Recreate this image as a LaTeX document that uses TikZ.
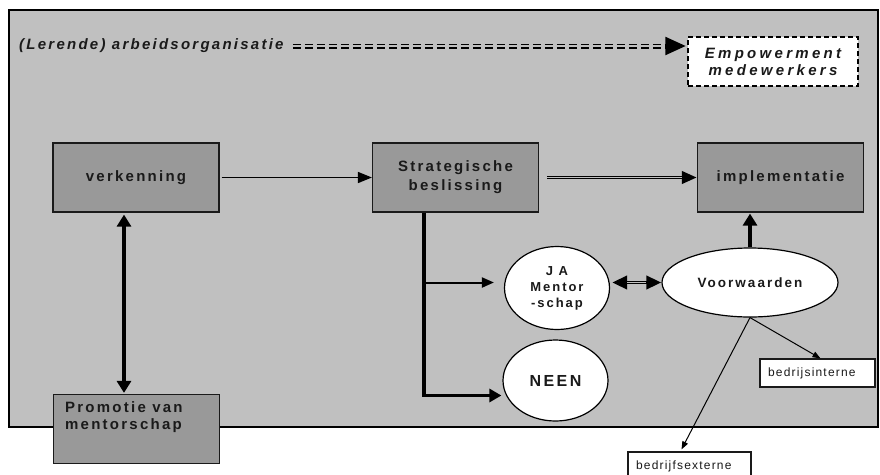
\documentclass[tikz,border=0pt]{standalone}
\usepackage{fontspec}
\setmainfont{Liberation Sans}
\newfontfamily\trackfont[LetterSpace=15]{Liberation Sans}
\newfontfamily\widetrack[LetterSpace=22]{Liberation Sans}
\newfontfamily\smalltrack[LetterSpace=10]{Liberation Sans}
\usetikzlibrary{arrows.meta,shapes.geometric}

\definecolor{bggray}{HTML}{C0C0C0}
\definecolor{boxgray}{HTML}{999999}
\definecolor{inkgray}{HTML}{1A1A1A}

\tikzset{
  phase/.style={draw=inkgray, fill=boxgray, line width=1.2pt, minimum width=166pt,
    minimum height=69pt, inner sep=0pt, align=center, text=inkgray,
    font=\trackfont\bfseries\fontsize{15}{19}\selectfont},
  choice/.style={ellipse, draw=black, fill=white, line width=1.2pt, inner sep=0pt,
    minimum width=105pt, minimum height=83pt, align=center, text=inkgray,
    font=\trackfont\bfseries\fontsize{13}{16}\selectfont},
  factor/.style={draw=inkgray, fill=white, line width=1.2pt, inner ysep=0pt, inner xsep=8pt,
    minimum height=28pt, align=left, text=inkgray, font=\smalltrack\fontsize{12}{14}\selectfont},
  flow/.style={line width=1.5pt, -{Triangle[length=14pt,width=11pt]}},
  heavy/.style={line width=3.2pt, -{Triangle[length=12pt,width=14pt]}},
  twin/.style={line width=3.6pt},
  gap/.style={draw=bggray, line width=1pt},
  thin/.style={line width=1pt, -{Triangle[length=8pt,width=6pt]}}
}

\begin{document}
\begin{tikzpicture}[x=1pt, y=-1pt]
\useasboundingbox (0,0) rectangle (880,474);

% organisatie
\draw[fill=bggray, line width=2.5pt] (9,10) rectangle (878,427);

\node[anchor=west, inner sep=0pt, text=inkgray, font=\trackfont\bfseries\itshape\fontsize{15}{17}\selectfont] (title) at (19,46) {(Lerende) arbeidsorganisatie};
\node[draw=black, dashed, dash pattern=on 5pt off 3pt, fill=white, line width=1.5pt, minimum width=170pt, minimum height=49pt, inner sep=0pt, align=center, text=inkgray, font=\widetrack\bfseries\itshape\fontsize{15}{17}\selectfont] (empower) at (773,61.5) {Empowerment\\medewerkers};

% fasen
\node[phase] (verk) at (136,177.5) {verkenning};
\node[phase] (strat) at (455.5,177.5) {Strategische\\beslissing};
\node[phase] (impl) at (780.5,177.5) {implementatie};
\node[phase] (promo) at (136.5,429) {};
\node[anchor=north west, inner sep=0pt, align=left, text=inkgray, font=\trackfont\bfseries\fontsize{15}{17}\selectfont] (promotext) at ([xshift=12pt,yshift=-8pt]promo.north west) {Promotie van\\mentorschap};

% keuzes
\node[choice] (ja) at (557,288) {J A\\Mentor\\-schap};
\node[choice, minimum height=81pt, font=\trackfont\bfseries\fontsize{16}{18}\selectfont] (neen) at (555.5,380.5) {NEEN};
\node[choice, minimum width=176pt, minimum height=69pt, font=\trackfont\bfseries\fontsize{13.5}{16}\selectfont] (voor) at (750,282.5) {Voorwaarden};

\node[factor, text width=99pt] (intern) at (817.5,373) {bedrijsinterne};
\node[factor, text width=107pt] (extern) at (689.5,466) {bedrijfsexterne};

% verbindingen
\draw[line width=5pt, dash pattern=on 8pt off 4pt, -{Triangle[length=21pt,width=17pt]}] ([xshift=9pt]title.east) -- ([xshift=-1pt]title.east -| empower.west);
\draw[gap, line width=1.2pt, shorten >=21pt] ([xshift=9pt]title.east) -- ([xshift=-1pt]title.east -| empower.west);

\draw[flow] ([xshift=2pt]verk.east) -- (strat.west);
\draw[twin, -{Triangle[length=15pt,width=12pt]}] ([xshift=8pt]strat.east) -- (impl.west);
\draw[gap, shorten >=15pt] ([xshift=8pt]strat.east) -- (impl.west);
\draw[heavy, {Triangle[length=12pt,width=14pt]}-{Triangle[length=12pt,width=14pt]}] ([xshift=-12pt, yshift=-2pt]verk.south) -- ([xshift=-12.5pt, yshift=1pt]promo.north);

\coordinate (stem) at ([xshift=-31.5pt]strat.south);
\draw[line width=3.5pt, -{Triangle[length=12pt,width=13pt]}] (stem) |- ([yshift=-15pt, xshift=-1pt]neen.west);
\draw[line width=2pt, -{Triangle[length=12pt,width=10pt]}] (stem |- voor.west) -- ([xshift=-10pt]voor.west -| ja.west);
\draw[twin, {Triangle[length=15pt,width=13pt]}-{Triangle[length=15pt,width=13pt]}] ([xshift=2pt]ja.east |- voor.west) -- (voor.west);
\draw[gap, shorten <=15pt, shorten >=15pt] ([xshift=2pt]ja.east |- voor.west) -- (voor.west);
\draw[heavy] (voor.north) -- ([yshift=-1pt]voor.north |- impl.south);

\draw[thin] (voor.south) -- ([xshift=3pt]intern.north);
\draw[thin] (voor.south) -- ([xshift=-8pt, yshift=2pt]extern.north);

\end{tikzpicture}
\end{document}
